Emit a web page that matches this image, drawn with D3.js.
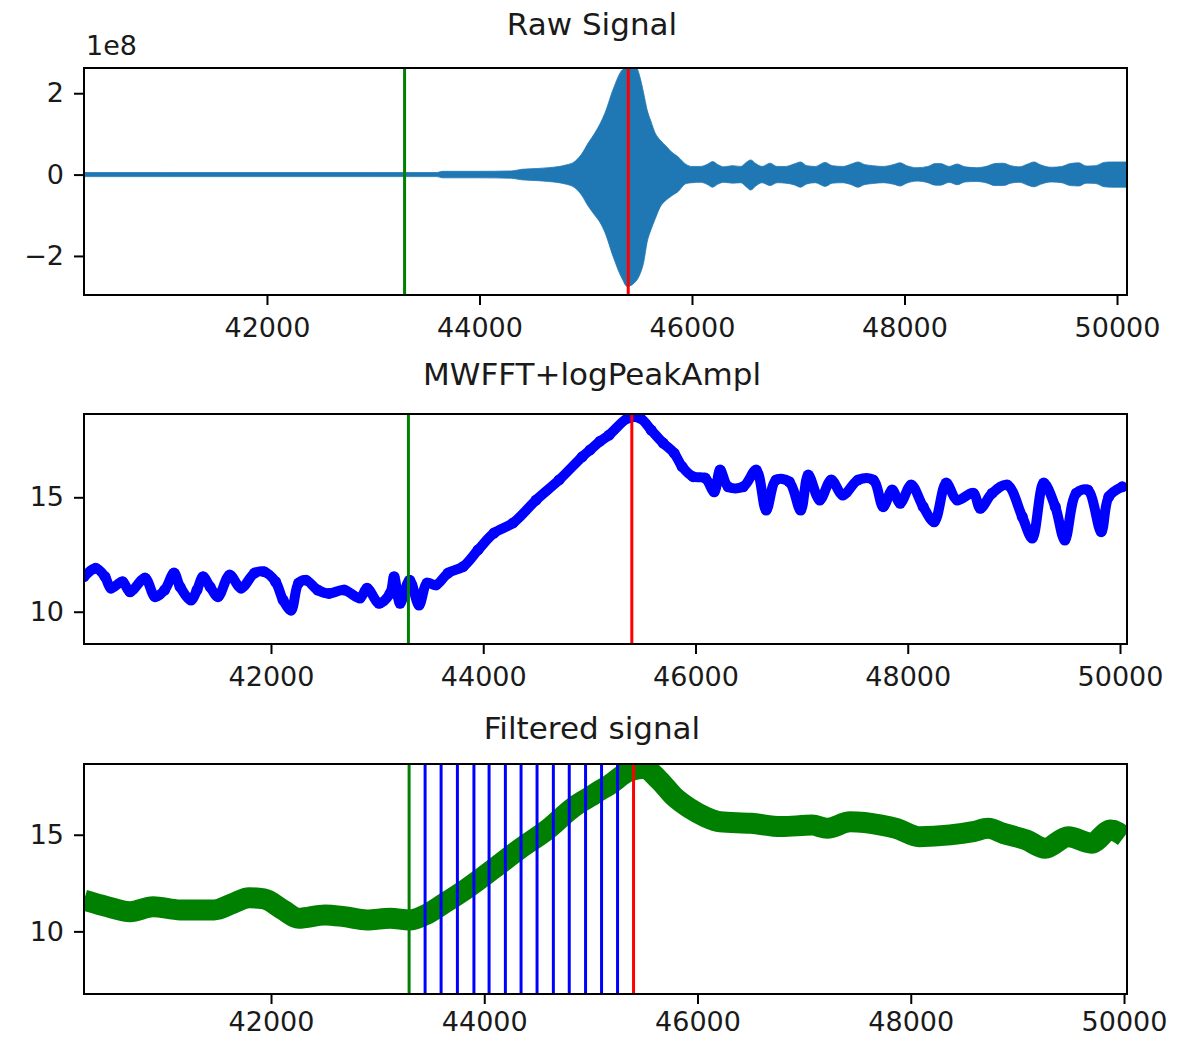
<!DOCTYPE html>
<html><head><meta charset="utf-8">
<script src="https://cdn.jsdelivr.net/npm/d3@7"></script>
<style>body{margin:0;background:#fff}</style>
</head><body><svg id="c" width="1192" height="1040"></svg>
<script>
// ---------- data ----------
const xTickValues = [42000, 44000, 46000, 48000, 50000];
const xTickLabels = ["42000", "44000", "46000", "48000", "50000"];

const rawYTicks = [-2, 0, 2];
const rawYLabels = ["\u22122", "0", "2"];
const ampYTicks = [10, 15];
const ampYLabels = ["10", "15"];
const filtYTicks = [10, 15];
const filtYLabels = ["10", "15"];

const titles = ["Raw Signal", "MWFFT+logPeakAmpl", "Filtered signal"];
const offsetLabel = "1e8";

const onsetX = 43295;   // green line
const peakX = 45400;    // red line
const pickX = [43445, 43595, 43748, 43903, 44045, 44198, 44345, 44495, 44648, 44797, 44950, 45100, 45250];

// axis limits
const rawXDomain = [40278, 50094];
const rawYDomain = [-2.96, 2.62];
const ampXDomain = [40238, 50066];
const ampYDomain = [8.59, 18.64];
const filtXDomain = [40246, 50028];
const filtYDomain = [6.76, 18.66];

// raw signal envelope (units of 1e8)
const rawX = [40278, 41000, 42000, 43000, 43600, 43650, 44000, 44300, 44400, 44550, 44650, 44750, 44820, 44884, 44960, 45024, 45080, 45135, 45182, 45257, 45346, 45389, 45473, 45510, 45545, 45577, 45615, 45652, 45700, 45760, 45810, 45868, 45944,
  46000, 46080, 46150, 46194, 46240, 46300, 46380, 46460, 46510, 46553, 46600, 46660, 46735, 46800, 46880, 46960, 47022, 47080, 47160, 47253, 47320, 47420, 47500, 47563, 47620, 47700, 47800, 47900, 47958, 48020, 48120, 48220, 48290, 48340, 48420, 48495, 48570, 48680, 48780, 48850, 48930, 49000, 49080, 49160, 49219, 49280, 49380, 49480, 49560, 49640, 49710, 49800, 49880, 49950, 50094];
const rawUpper = [0.05, 0.05, 0.05, 0.05, 0.05, 0.08, 0.08, 0.09, 0.13, 0.15, 0.17, 0.2, 0.24, 0.3, 0.5, 0.78, 1.0, 1.25, 1.52, 2.09, 2.58, 2.63, 2.64, 2.4, 2.0, 1.6, 1.3, 1.03, 0.85, 0.69, 0.55, 0.44, 0.25,
  0.2, 0.2, 0.26, 0.32, 0.25, 0.19, 0.22, 0.2, 0.3, 0.36, 0.27, 0.2, 0.28, 0.2, 0.2, 0.26, 0.31, 0.22, 0.2, 0.3, 0.22, 0.2, 0.26, 0.31, 0.25, 0.22, 0.2, 0.25, 0.29, 0.22, 0.17, 0.2, 0.27, 0.27, 0.2, 0.26, 0.19, 0.17, 0.21, 0.27, 0.28, 0.22, 0.19, 0.26, 0.31, 0.24, 0.18, 0.2, 0.27, 0.29, 0.21, 0.22, 0.3, 0.31, 0.31];
const rawLower = [-0.05, -0.05, -0.05, -0.05, -0.05, -0.08, -0.08, -0.09, -0.13, -0.15, -0.17, -0.2, -0.24, -0.3, -0.5, -0.78, -0.98, -1.18, -1.43, -2.01, -2.58, -2.75, -2.62, -2.45, -2.16, -1.67, -1.35, -1.1, -0.8, -0.62, -0.52, -0.42, -0.22,
  -0.2, -0.19, -0.25, -0.31, -0.24, -0.19, -0.21, -0.2, -0.3, -0.38, -0.28, -0.2, -0.27, -0.2, -0.21, -0.25, -0.31, -0.23, -0.2, -0.29, -0.21, -0.2, -0.25, -0.31, -0.25, -0.22, -0.2, -0.24, -0.28, -0.21, -0.16, -0.2, -0.26, -0.26, -0.19, -0.25, -0.18, -0.17, -0.21, -0.27, -0.27, -0.21, -0.19, -0.26, -0.3, -0.24, -0.18, -0.2, -0.27, -0.28, -0.21, -0.22, -0.3, -0.31, -0.31];

// MWFFT + log peak amplitude
const ampX = [40238, 40348, 40436, 40492, 40601, 40672, 40813, 40907, 40998, 41086, 41143, 41246, 41303, 41360, 41426, 41501, 41610, 41718, 41845, 41935, 42043, 42114, 42189, 42260, 42330, 42440, 42547, 42689, 42839, 42905, 43018, 43122, 43160, 43216, 43306, 43395, 43471, 43556, 43669, 43810, 43951, 44102, 44281, 44498, 44715, 44932, 45007, 45101, 45186, 45365, 45478, 45582, 45695, 45799, 45874, 45978, 46091, 46176, 46232, 46308, 46449, 46572, 46666, 46760, 46883, 46991, 47062, 47171, 47279, 47388, 47533, 47674, 47769, 47853, 47929, 48032, 48145, 48249, 48362, 48466, 48617, 48683, 48796, 48937, 49079, 49173, 49281, 49390, 49480, 49588, 49696, 49823, 49895, 50021];
const ampY = [11.53, 11.9, 11.53, 11.03, 11.31, 10.87, 11.47, 10.66, 10.95, 11.69, 11.09, 10.51, 10.95, 11.53, 11.09, 10.66, 11.6, 11.03, 11.69, 11.75, 11.31, 10.51, 10.07, 11.25, 11.38, 10.95, 10.8, 10.95, 10.6, 11.03, 10.37, 10.8, 11.53, 10.37, 11.38, 10.29, 11.25, 11.17, 11.69, 11.97, 12.7, 13.44, 13.88, 14.88, 15.76, 16.77, 17.07, 17.45, 17.72, 18.46, 18.46, 17.94, 17.37, 16.93, 16.34, 15.9, 15.84, 15.24, 16.19, 15.46, 15.46, 16.19, 14.44, 15.76, 15.68, 14.44, 15.97, 14.88, 15.76, 15.1, 15.76, 15.76, 14.59, 15.32, 14.74, 15.54, 14.59, 13.93, 15.62, 14.88, 15.18, 14.52, 15.18, 15.54, 14.15, 13.22, 15.62, 14.59, 13.13, 15.18, 15.32, 13.5, 15.03, 15.46];

// filtered signal
const filtX = [40246, 40462, 40678, 40893, 41147, 41466, 41644, 41794, 41934, 42113, 42258, 42507, 42685, 42901, 43117, 43299, 43445, 43623, 43839, 44092, 44341, 44589, 44843, 44993, 45087, 45171, 45349, 45496, 45640, 45781, 45926, 46072, 46212, 46503, 46785, 47075, 47216, 47432, 47723, 47863, 48079, 48370, 48586, 48726, 48867, 49083, 49261, 49477, 49693, 49876, 50002];
const filtY = [11.62, 11.28, 11.02, 11.28, 11.11, 11.11, 11.45, 11.74, 11.68, 11.11, 10.68, 10.85, 10.76, 10.59, 10.68, 10.59, 10.85, 11.45, 12.23, 13.26, 14.3, 15.25, 16.45, 16.97, 17.3, 17.57, 18.26, 18.44, 17.83, 16.97, 16.37, 15.93, 15.67, 15.59, 15.42, 15.5, 15.33, 15.67, 15.5, 15.33, 14.9, 14.99, 15.16, 15.33, 15.07, 14.73, 14.3, 14.9, 14.56, 15.25, 14.9];

// ---------- drawing ----------
const svg = d3.select('#c');
const FONT = 'DejaVu Sans';
const L = 84, R = 1127;

function makePanel(idx, top, bottom, xDomain, yDomain, yTicks, yLabels, titleY, xPad) {
  const x = d3.scaleLinear().domain(xDomain).range([L, R]);
  const y = d3.scaleLinear().domain(yDomain).range([bottom, top]);
  const g = svg.append('g');
  const clipId = 'clip' + idx;
  g.append('clipPath').attr('id', clipId).append('rect')
    .attr('x', L).attr('y', top).attr('width', R - L).attr('height', bottom - top);
  const plot = g.append('g').attr('clip-path', `url(#${clipId})`);

  const xa = g.append('g').attr('transform', `translate(0,${bottom})`)
    .call(d3.axisBottom(x).tickValues(xTickValues).tickFormat((d, i) => xTickLabels[i]).tickSize(10).tickPadding(xPad));
  const ya = g.append('g').attr('transform', `translate(${L},0)`)
    .call(d3.axisLeft(y).tickValues(yTicks).tickFormat((d, i) => yLabels[i]).tickSize(10).tickPadding(10));
  [xa, ya].forEach(a => {
    a.select('.domain').remove();
    a.selectAll('line').attr('stroke', '#000').attr('stroke-width', 2);
    a.selectAll('text').attr('font-family', FONT).attr('font-size', 27).attr('fill', '#1a1a1a');
  });

  g.append('text').attr('x', 592).attr('y', titleY).attr('text-anchor', 'middle')
    .attr('font-family', FONT).attr('font-size', 31).attr('fill', '#1a1a1a').text(titles[idx]);

  return {x, y, g, plot, top, bottom};
}

function vline(p, v, color, w) {
  p.plot.append('line').attr('x1', p.x(v)).attr('x2', p.x(v))
    .attr('y1', p.top).attr('y2', p.bottom).attr('stroke', color).attr('stroke-width', w);
}
function frame(p) {
  p.g.append('rect').attr('x', L).attr('y', p.top).attr('width', R - L).attr('height', p.bottom - p.top)
    .attr('fill', 'none').attr('stroke', '#000').attr('stroke-width', 2);
}

// Panel 1: raw signal
const p1 = makePanel(0, 68, 295, rawXDomain, rawYDomain, rawYTicks, rawYLabels, 35, 13);
const rawData = rawX.map((v, i) => ({x: v, hi: rawUpper[i], lo: rawLower[i]}));
p1.plot.append('path').datum(rawData)
  .attr('d', d3.area().x(d => p1.x(d.x)).y0(d => p1.y(d.lo)).y1(d => p1.y(d.hi)).curve(d3.curveMonotoneX))
  .attr('fill', '#1f77b4').attr('stroke', '#1f77b4').attr('stroke-width', 0.8);
vline(p1, onsetX, '#008000', 3);
vline(p1, peakX, '#ff0000', 3);
frame(p1);
p1.g.append('text').attr('x', 86).attr('y', 55).attr('font-family', FONT).attr('font-size', 27)
  .attr('fill', '#1a1a1a').text(offsetLabel);

// Panel 2: MWFFT + logPeakAmpl (dense markers)
const p2 = makePanel(1, 414, 644, ampXDomain, ampYDomain, ampYTicks, ampYLabels, 385, 13);
const ampData = ampX.map((v, i) => ({x: v, y: ampY[i]}));
p2.plot.append('path').datum(ampData)
  .attr('d', d3.line().x(d => p2.x(d.x)).y(d => p2.y(d.y)).curve(d3.curveCatmullRom.alpha(0.5)))
  .attr('fill', 'none').attr('stroke', '#0000ff').attr('stroke-width', 10)
  .attr('stroke-linejoin', 'round').attr('stroke-linecap', 'round');
p2.plot.selectAll('circle').data(ampData).join('circle')
  .attr('cx', d => p2.x(d.x)).attr('cy', d => p2.y(d.y)).attr('r', 5.5).attr('fill', '#0000ff');
vline(p2, onsetX, '#008000', 3);
vline(p2, peakX, '#ff0000', 3);
frame(p2);

// Panel 3: filtered signal
const p3 = makePanel(2, 764, 994, filtXDomain, filtYDomain, filtYTicks, filtYLabels, 739, 8);
const filtData = filtX.map((v, i) => ({x: v, y: filtY[i]}));
p3.plot.append('path').datum(filtData)
  .attr('d', d3.line().x(d => p3.x(d.x)).y(d => p3.y(d.y)).curve(d3.curveMonotoneX))
  .attr('fill', 'none').attr('stroke', '#008000').attr('stroke-width', 21)
  .attr('stroke-linejoin', 'round');
vline(p3, onsetX, '#008000', 3);
pickX.forEach(v => vline(p3, v, '#0000ff', 3));
vline(p3, peakX, '#ff0000', 3);
frame(p3);
</script>
</body></html>
